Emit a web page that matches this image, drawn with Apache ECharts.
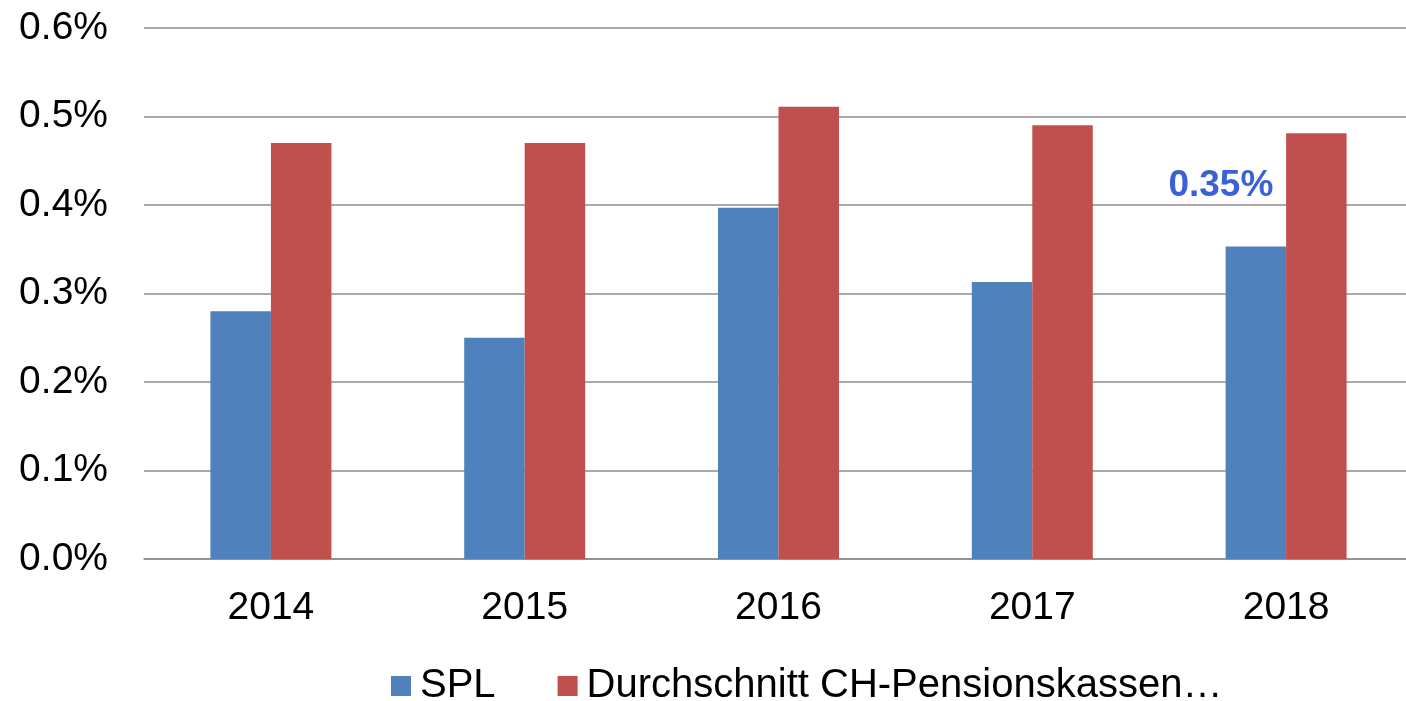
<!DOCTYPE html>
<html>
<head>
<meta charset="utf-8">
<script src="https://cdn.jsdelivr.net/npm/echarts@6/dist/echarts.min.js"></script>
<style>
    html, body { margin: 0; padding: 0; background: #fff; overflow: hidden; }
    /* etwas breiter als das Fenster, damit die Plotfläche rechts abgeschnitten wird */
    #chart { width: 1420px; height: 701px; }
</style>
</head>
<body>
<div id="chart"></div>
<script>
    // Werte in Prozent
    var years = ['2014', '2015', '2016', '2017', '2018'];
    var spl = [0.28, 0.25, 0.397, 0.313, 0.353];
    var durchschnitt = [0.47, 0.47, 0.511, 0.49, 0.481];
    var yTicks = { min: 0, max: 0.6, step: 0.1 };
    var seriesNames = ['SPL', 'Durchschnitt CH-Pensionskassen…'];

    var font = '"Liberation Sans", Arial, sans-serif';

    // nur der letzte SPL-Balken bekommt die blaue Beschriftung
    var splData = spl.map(function (v, i) {
        if (i === spl.length - 1) {
            return {
                value: v,
                label: {
                    show: true,
                    position: 'top',
                    offset: [-35, -37],
                    formatter: function (p) { return p.value.toFixed(2) + '%'; },
                    color: '#3a62d6',
                    fontWeight: 'bold',
                    fontSize: 37,
                    fontFamily: font
                }
            };
        }
        return v;
    });

    var chart = echarts.init(document.getElementById('chart'));
    chart.setOption({
        animation: false,
        grid: {
            left: 144,
            top: 28,
            width: 1269,
            height: 531
        },
        legend: {
            left: 386,
            top: 661,
            itemWidth: 20,
            itemHeight: 20,
            itemGap: 62,
            icon: 'rect',
            textStyle: { fontSize: 40, fontFamily: font, color: '#000', padding: [0, 0, 0, 4] },
            data: seriesNames
        },
        xAxis: {
            type: 'category',
            data: years,
            axisTick: { show: false },
            axisLine: { lineStyle: { color: '#8c8c8c', width: 1.5 } },
            axisLabel: { fontSize: 39, fontFamily: font, color: '#000', margin: 30 }
        },
        yAxis: {
            type: 'value',
            min: yTicks.min,
            max: yTicks.max,
            interval: yTicks.step,
            axisLine: { show: false },
            axisTick: { show: false },
            splitLine: { lineStyle: { color: '#8c8c8c', width: 1.5 } },
            axisLabel: {
                fontSize: 39,
                fontFamily: font,
                color: '#000',
                margin: 36,
                formatter: function (v) { return v.toFixed(1) + '%'; }
            }
        },
        series: [
            {
                name: seriesNames[0],
                type: 'bar',
                barWidth: 60.5,
                barGap: '0%',
                itemStyle: { color: '#4f81bd' },
                data: splData
            },
            {
                name: seriesNames[1],
                type: 'bar',
                barWidth: 60.5,
                barGap: '0%',
                itemStyle: { color: '#c0504d' },
                data: durchschnitt
            }
        ]
    });
</script>
</body>
</html>
